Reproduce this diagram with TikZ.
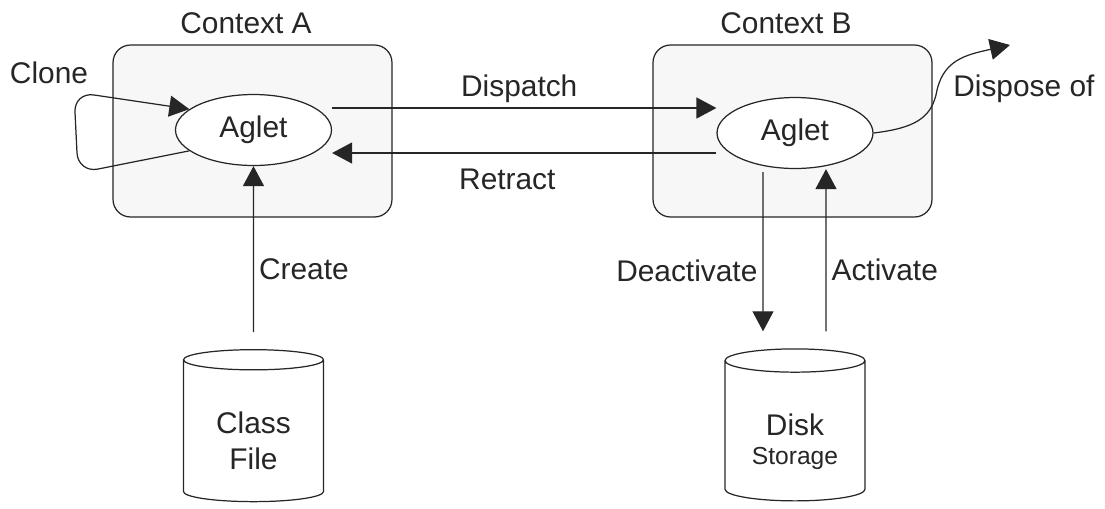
\documentclass[tikz,border=0pt]{standalone}
\usepackage{fontspec}
\setmainfont{Liberation Sans}
\usepackage{tikz}
\usetikzlibrary{shapes.geometric}
\usetikzlibrary{arrows.meta}
\usetikzlibrary{positioning}

\tikzset{
  ctxbox/.style={draw=black!85, fill=black!3, rounded corners=0.35cm, minimum width=5.58cm, minimum height=3.44cm, line width=0.7pt},
  agletnode/.style={ellipse, draw=black!85, fill=white, minimum width=3.12cm, minimum height=1.42cm, inner sep=0pt, line width=0.7pt},
  store/.style={cylinder, shape border rotate=90, aspect=0.27, draw=black!85, fill=white, minimum width=2.8cm, minimum height=3.04cm, align=center, inner sep=0pt, line width=0.7pt},
  wire/.style={draw=black!85, line width=0.7pt, -{Triangle[length=0.4cm, width=0.42cm]}},
  lbl/.style={inner sep=0.1cm, text=black!85},
}

\begin{document}
\begin{tikzpicture}[x=0.02cm, y=-0.02cm, font=\fontsize{17pt}{20.4pt}\selectfont, text=black!85]
    % Frame:
    \useasboundingbox (0, 0) rectangle (1105, 508);
    % Contexts and aglets:
    \node[ctxbox](ctxA) at (252.5, 131){};
    \node[ctxbox](ctxB) at (792.5, 131){};
    \node[lbl, inner sep=0, above=0.2cm of ctxA, xshift=-0.13cm](ctxAlbl){Context A};
    \node[lbl, inner sep=0, above=0.2cm of ctxB, xshift=-0.13cm](ctxBlbl){Context B};
    \node[agletnode](aglA) at (253.5, 130){Aglet};
    \node[agletnode](aglB) at (795, 133){Aglet};
    % Storage:
    \node[store](cls) at (253.5, 431){\rule{0pt}{0.82cm}Class\\File};
    \node[store](dsk) at (795, 431){\rule{0pt}{0.86cm}Disk\\[-4pt]{\fontsize{14pt}{16pt}\selectfont Storage}};
    \node[lbl](clonelbl) at (49, 73){Clone};
    \node[lbl, anchor=base west, inner sep=0](displbl) at (953, 96){Dispose of};
    \coordinate (gone) at (1010, 45);
    % Paths:
    \draw[wire, rounded corners=0.4cm] (aglA.198) -- (78, 173) -- (74, 92) -- (aglA.162);
    \draw[wire] ([yshift=0.44cm]aglA.east) -- ([yshift=0.44cm]aglA.east -| aglB.west) node[lbl, pos=0.487, above]{Dispatch};
    \draw[wire] ([yshift=-0.4cm]aglB.west) -- ([yshift=-0.4cm]aglB.west -| aglA.east) node[lbl, pos=0.544, below=0.2cm]{Retract};
    \draw[wire] ([yshift=0.34cm]cls.north) -- (aglA.south) node[lbl, pos=0.38, right]{Create};
    \draw[wire] ([xshift=-0.64cm, yshift=-0.06cm]aglB.south) -- ([xshift=-0.64cm, yshift=0.34cm]dsk.north) node[lbl, pos=0.62, left]{Deactivate};
    \draw[wire] ([xshift=0.62cm, yshift=0.34cm]dsk.north) -- ([xshift=0.62cm]aglB.south) node[lbl, pos=0.376, right]{Activate};
    \draw[wire] (aglB.east) .. controls (915, 128) and (930, 118) .. (936, 95) .. controls (942, 60) and (965, 55) .. (gone);
\end{tikzpicture}
\end{document}
